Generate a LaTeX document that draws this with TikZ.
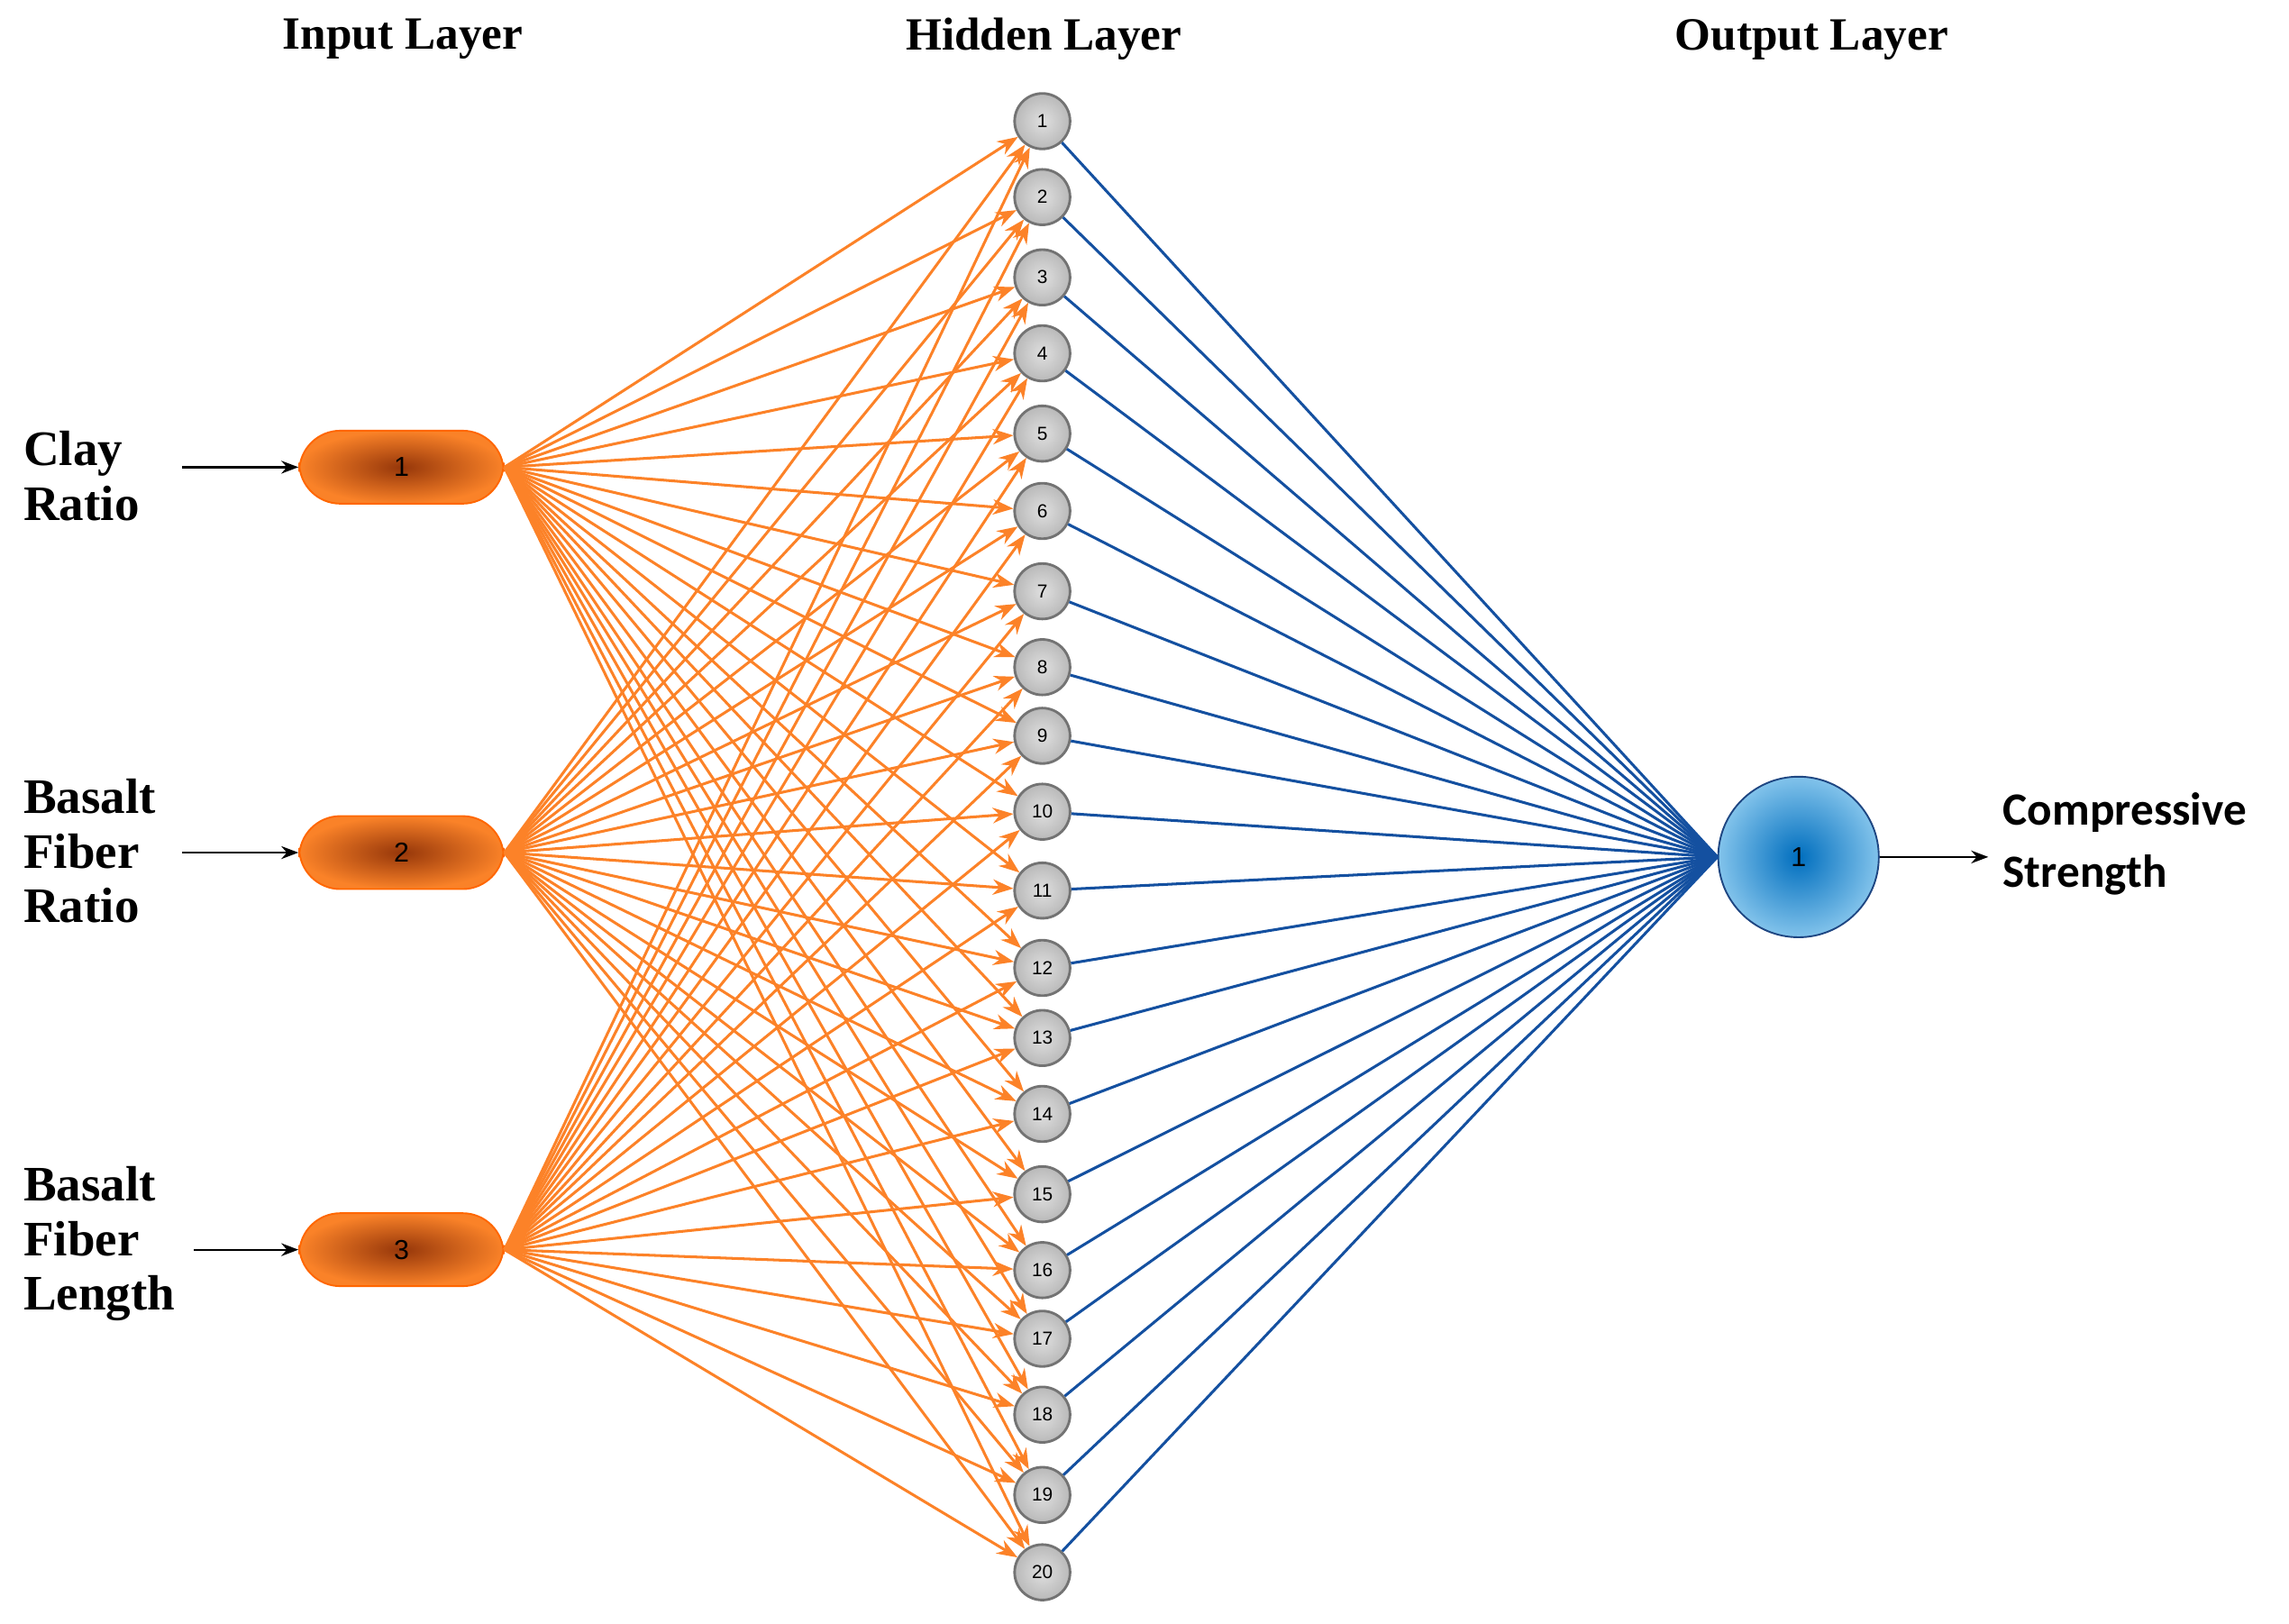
\documentclass[tikz,border=0pt]{standalone}
\usepackage{fontspec}
\setmainfont{Liberation Serif}
\newfontfamily\carl{Carlito}
\newfontfamily\lsans{Liberation Sans}
\usetikzlibrary{arrows.meta}
\begin{document}
\begin{tikzpicture}[x=0.03cm,y=-0.03cm,
 inp/.style={rounded corners=24,minimum width=140*0.03cm,minimum height=50*0.03cm,draw=orange!80!red,line width=1pt,inner color={rgb,255:red,150;green,55;blue,10},outer color={rgb,255:red,250;green,130;blue,40},font=\lsans\fontsize{16}{18}\selectfont},
 hid/.style={circle,minimum size=38*0.03cm,inner sep=0pt,draw=gray!90!black,line width=1.5pt,inner color=gray!25,outer color=gray!55,font=\lsans\fontsize{11}{12}\selectfont},
 outn/.style={circle,minimum size=110*0.03cm,draw={rgb,255:red,30;green,70;blue,130},line width=1pt,inner color={rgb,255:red,0;green,110;blue,190},outer color={rgb,255:red,130;green,195;blue,235},font=\lsans\fontsize{16}{18}\selectfont},
 oa/.style={draw={rgb,255:red,252;green,130;blue,40},line width=1.6pt,-{Stealth[length=12pt,width=9pt]}},
 bl/.style={draw={rgb,255:red,20;green,80;blue,160},line width=1.6pt},
 lab/.style={font=\bfseries\fontsize{29}{36}\selectfont,align=left,anchor=west},
 ttl/.style={font=\bfseries\fontsize{27}{30}\selectfont}]
\useasboundingbox (0,0) rectangle (1568,1112);
\node[ttl] (t1) at (276,27) {Input Layer};
\node[ttl] (t2) at (715,27) {Hidden Layer};
\node[ttl] (t3) at (1241,27) {Output Layer};
\foreach \i/\y in {1/320,2/584,3/856} \node[inp] (i\i) at (275,\y) {\i};
\foreach \i/\y in {1/83,2/135,3/190,4/242,5/297,6/350,7/405,8/457,9/504,10/556,11/610,12/663,13/711,14/763,15/818,16/870,17/917,18/969,19/1024,20/1077}
  \node[hid] (h\i) at (714,\y) {\i};
\node[outn] (o) at (1232,587) {1};
\foreach \j in {1,...,20}{
  \foreach \i in {1,2,3} \draw[oa] (i\i.east) -- (h\j);
  \draw[bl] (h\j) -- (o.west);
}
\node[lab] (l1) at (12,326) {Clay\\[-4pt]Ratio};
\node[lab] (l2) at (12,583) {Basalt\\[-4pt]Fiber\\[-4pt]Ratio};
\node[lab] (l3) at (12,852) {Basalt\\[-4pt]Fiber\\[-4pt]Length};
\coordinate (a1) at (125,320);
\coordinate (a2) at (125,584);
\coordinate (a3) at (133,856);
\draw[-{Stealth[length=10pt]},line width=1.2pt] (a1) -- (i1.west);
\draw[-{Stealth[length=10pt]},line width=1.2pt] (a2) -- (i2.west);
\draw[-{Stealth[length=10pt]},line width=1.2pt] (a3) -- (i3.west);
\node[font=\carl\bfseries\fontsize{27}{36}\selectfont,align=left,anchor=west] (cs) at (1368,578) {Compressive\\Strength};
\coordinate (oe) at (1362,587);
\draw[-{Stealth[length=10pt]},line width=1.2pt] (o.east) -- (oe);
\end{tikzpicture}
\end{document}
